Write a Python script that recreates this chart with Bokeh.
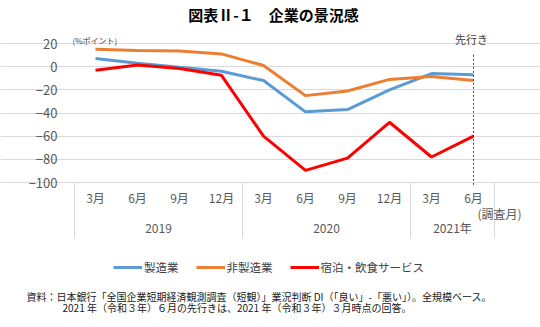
from bokeh.plotting import figure
from bokeh.models import (ColumnDataSource, Legend, LegendItem, Label, LinearAxis, Grid,
                          FixedTicker, Range1d)
from bokeh.embed import file_html
from bokeh.resources import INLINE

# ---- data ----
years = ["2019", "2019", "2019", "2019", "2020", "2020", "2020", "2020", "2021年", "2021年"]
months = ["3月", "6月", "9月", "12月", "3月", "6月", "9月", "12月", "3月", "6月"]
manufacturing = [7, 3, -0.5, -4, -12, -39, -37, -20, -6, -7]
non_manufacturing = [15, 14, 13.5, 11, 1, -25, -21, -11, -8.5, -12]
accommodation_food = [-3, 1.5, -1.5, -7.5, -60, -89.5, -79, -48, -78, -60]
series_names = ["製造業", "非製造業", "宿泊・飲食サービス"]
y_ticks = [-100, -80, -60, -40, -20, 0, 20]
title_text = "図表Ⅱ-１　企業の景況感"
unit_text = "(%ポイント)"
forecast_text = "先行き"
survey_text = "(調査月)"
note1 = "資料：日本銀行「全国企業短期経済観測調査（短観）」業況判断 DI（「良い」-「悪い」）。全規模ベース。"
note2 = "2021 年（令和３年）６月の先行きは、2021 年（令和３年）３月時点の回答。"

FONT = "Noto Sans CJK JP"
W, H = 540, 327
PL, PR, PT, PB = 74, 494, 43, 182      # plot-area edges on the page (px)

n = len(months)
idx = list(range(n))
x_lo, x_hi = -0.5, n - 0.5
y_lo, y_hi = y_ticks[0], y_ticks[-1]
sx = (PR - PL) / (x_hi - x_lo)
sy = (PB - PT) / (y_hi - y_lo)

# year groups: centres and boundaries derived from the year list
groups = []
for i, y in enumerate(years):
    if not groups or groups[-1][0] != y:
        groups.append([y, i, i])
    else:
        groups[-1][2] = i
group_centres = [(a + b) / 2 for _, a, b in groups]
group_edges = [groups[0][1] - 0.5] + [b + 0.5 for _, a, b in groups]

src = ColumnDataSource(dict(x=idx, mfg=manufacturing, nonmfg=non_manufacturing, acc=accommodation_food))

p = figure(width=W, height=H, output_backend="svg", toolbar_location=None,
           x_axis_type=None, y_axis_type=None,
           x_range=Range1d(x_lo - PL / sx, x_hi + (W - PR) / sx),
           y_range=Range1d(y_lo - (H - PB) / sy, y_hi + PT / sy),
           min_border=0)
p.outline_line_color = None
p.background_fill_color = "white"
p.border_fill_color = "white"

# horizontal grid limited to the plot area
p.add_layout(Grid(dimension=1, ticker=FixedTicker(ticks=y_ticks), bounds=(x_lo, x_hi),
                  grid_line_color="#d9d9d9", grid_line_width=1))

# y axis
yax = LinearAxis(fixed_location=x_lo, ticker=FixedTicker(ticks=y_ticks), axis_line_color=None,
                 major_tick_line_color=None, minor_tick_line_color=None,
                 major_label_text_font=FONT, major_label_text_font_size="13px",
                 major_label_text_color="#595959", major_label_standoff=11)
p.add_layout(yax, "left")

# month labels
mx = LinearAxis(fixed_location=y_lo, ticker=FixedTicker(ticks=idx),
                major_label_overrides={i: m for i, m in zip(idx, months)},
                axis_line_color=None, major_tick_line_color=None, minor_tick_line_color=None,
                major_label_text_font=FONT, major_label_text_font_size="12px",
                major_label_text_color="#595959", major_label_standoff=0)
p.add_layout(mx, "below")

# year labels
yx = LinearAxis(fixed_location=y_lo, ticker=FixedTicker(ticks=group_centres),
                major_label_overrides={c: g[0] for c, g in zip(group_centres, groups)},
                axis_line_color=None, major_tick_line_color=None, minor_tick_line_color=None,
                major_label_text_font=FONT, major_label_text_font_size="12px",
                major_label_text_color="#595959", major_label_standoff=30)
p.add_layout(yx, "below")

# box lines separating the year groups
bx = LinearAxis(fixed_location=y_lo, ticker=FixedTicker(ticks=group_edges), bounds=(x_lo, x_hi),
                axis_line_color="#d9d9d9", major_tick_line_color="#d9d9d9", major_tick_in=0,
                major_tick_out=56, minor_tick_line_color=None, major_label_text_alpha=0)
p.add_layout(bx, "below")

colors = ["#5B9BD5", "#ED7D31", "#FF0000"]
r1 = p.line("x", "mfg", source=src, line_color=colors[0], line_width=3)
r2 = p.line("x", "nonmfg", source=src, line_color=colors[1], line_width=3)
r3 = p.line("x", "acc", source=src, line_color=colors[2], line_width=3)

# forecast marker at the last survey month
p.segment(x0=[idx[-1]], y0=[y_lo - 2], x1=[idx[-1]], y1=[12],
          line_color="#404040", line_width=1, line_dash="2 2")

legend = Legend(items=[LegendItem(label=series_names[0], renderers=[r1]),
                       LegendItem(label=series_names[1], renderers=[r2]),
                       LegendItem(label=series_names[2], renderers=[r3])],
                orientation="horizontal", location=(113, 52),
                glyph_width=29, glyph_height=12, label_standoff=2, spacing=17, padding=0, margin=0,
                label_text_font=FONT, label_text_font_size="11.5px", label_text_color="#404040",
                border_line_color=None, background_fill_alpha=0)
p.add_layout(legend)

def lab(text, X, Y, size, color="#404040", style="normal", align="left"):
    p.add_layout(Label(x=X, y=H - Y, x_units="screen", y_units="screen", text=text,
                       text_font=FONT, text_font_size=size, text_color=color,
                       text_font_style=style, text_align=align, text_baseline="middle"))

lab(title_text, 273, 14, "15px", "#000000", "bold", "center")
lab(unit_text, 72, 40, "8px")
lab(forecast_text, 471, 38, "11px", align="center")
lab(survey_text, 477, 213, "12px", "#595959")
lab(note1, 26, 296, "10px", "#202020")
lab(note2, 62, 307, "10px", "#202020")

open("out.html", "w").write(file_html(p, INLINE))
